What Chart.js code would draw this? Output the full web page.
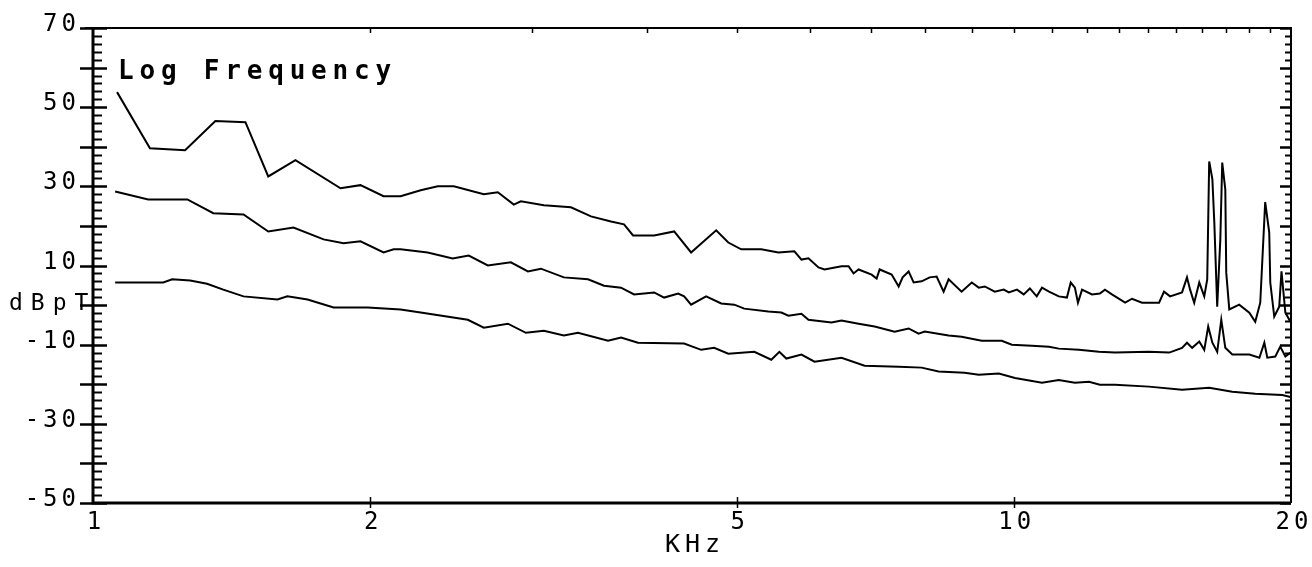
<!DOCTYPE html>
<html>
<head>
<meta charset="utf-8">
<title>Log Frequency</title>
<script src="https://cdn.jsdelivr.net/npm/chart.js@4.4.1/dist/chart.umd.min.js"></script>
<style>
    html, body { margin: 0; padding: 0; background: #fff; }
    #wrap { width: 1312px; height: 567px; position: relative; }
</style>
</head>
<body>
<div id="wrap"><canvas id="spectrum"></canvas></div>
<script>
// 上方曲線 (kHz / dBpT)
const upperFreq = [1.062, 1.153, 1.259, 1.358, 1.464, 1.550, 1.659, 1.857, 1.952, 2.068,
    2.158, 2.269, 2.368, 2.465, 2.657, 2.752, 2.864, 2.915, 3.088, 3.304,
    3.474, 3.652, 3.773, 3.859, 4.068, 4.277, 4.462, 4.751, 4.897, 5.058,
    5.318, 5.550, 5.777, 5.880, 5.984, 6.136, 6.229, 6.500, 6.615, 6.698,
    6.783, 7.008, 7.096, 7.150, 7.368, 7.498, 7.573, 7.687, 7.784, 7.941,
    8.102, 8.245, 8.390, 8.496, 8.776, 9.002, 9.161, 9.299, 9.535, 9.752,
    9.876, 10.08, 10.25, 10.41, 10.59, 10.73, 10.92, 11.19, 11.42, 11.53,
    11.65, 11.74, 11.86, 12.16, 12.40, 12.56, 12.78, 13.21, 13.44, 13.78,
    14.38, 14.56, 14.78, 15.23, 15.42, 15.54, 15.70, 15.90, 16.10, 16.22,
    16.30, 16.43, 16.51, 16.63, 16.76, 16.84, 16.97, 17.01, 17.14, 17.57,
    18.02, 18.29, 18.52, 18.75, 18.94, 18.99, 19.18, 19.42, 19.53, 19.72, 19.97];
const upperDb = [53.8, 39.6, 39.1, 46.5, 46.2, 32.5, 36.6, 29.5, 30.3, 27.5,
    27.5, 29.0, 30.0, 30.0, 28.0, 28.5, 25.4, 26.2, 25.2, 24.7,
    22.4, 21.1, 20.4, 17.6, 17.6, 18.6, 13.3, 18.9, 15.8, 14.1,
    14.1, 13.3, 13.6, 11.5, 11.8, 9.5, 9.0, 9.8, 9.8, 8.0,
    9.0, 7.7, 6.7, 9.0, 7.7, 4.7, 7.0, 8.5, 5.7, 6.0,
    7.0, 7.2, 3.4, 6.5, 3.4, 5.7, 4.4, 4.7, 3.4, 3.9,
    3.2, 3.9, 2.7, 4.2, 2.2, 4.4, 3.4, 2.2, 1.9, 5.7,
    4.4, 0.6, 3.9, 2.7, 2.9, 3.9, 2.7, 0.6, 1.6, 0.6,
    0.6, 3.4, 2.2, 3.2, 7.0, 3.9, 0.6, 5.7, 2.2, 6.5,
    36.3, 31.8, 20.9, -0.4, 16.6, 36.0, 29.2, 8.2, -1.1, 0.1,
    -1.9, -4.2, 0.6, 26.0, 18.4, 5.7, -2.9, -0.4, 8.5, -1.9, -4.2];

// 中間曲線
const middleFreq = [1.057, 1.148, 1.266, 1.351, 1.457, 1.550, 1.651, 1.780, 1.871, 1.952,
    2.068, 2.121, 2.158, 2.309, 2.458, 2.559, 2.684, 2.843, 2.967, 3.065,
    3.246, 3.448, 3.589, 3.745, 3.869, 4.068, 4.171, 4.320, 4.385, 4.462,
    4.633, 4.811, 4.971, 5.096, 5.412, 5.592, 5.691, 5.880, 5.984, 6.339,
    6.500, 6.783, 7.061, 7.423, 7.687, 7.882, 8.002, 8.496, 8.776, 9.230,
    9.703, 9.950, 10.46, 10.92, 11.19, 11.77, 12.37, 12.88, 14.02, 14.75,
    15.23, 15.42, 15.62, 15.90, 16.10, 16.26, 16.43, 16.63, 16.80, 16.97,
    17.27, 18.02, 18.48, 18.71, 18.85, 19.23, 19.47, 19.72, 19.97];
const middleDb = [28.7, 26.7, 26.7, 23.2, 22.9, 18.6, 19.6, 16.6, 15.6, 16.1,
    13.3, 14.1, 14.1, 13.3, 11.8, 12.5, 10.0, 10.8, 8.5, 9.2,
    7.0, 6.5, 4.9, 4.4, 2.7, 3.2, 1.9, 2.9, 2.2, 0.1,
    2.2, 0.4, 0.1, -0.9, -1.6, -1.9, -2.7, -2.2, -3.7, -4.4,
    -3.9, -4.7, -5.4, -6.7, -5.9, -7.2, -6.7, -7.7, -8.0, -9.0,
    -9.0, -10.0, -10.3, -10.5, -11.0, -11.3, -11.8, -12.0, -11.8, -12.0,
    -10.8, -9.5, -10.8, -9.2, -11.3, -5.4, -9.5, -11.8, -3.7, -10.8,
    -12.5, -12.5, -13.3, -9.5, -13.3, -13.0, -10.5, -13.0, -12.0];

// 下方曲線
const lowerFreq = [1.057, 1.192, 1.219, 1.275, 1.330, 1.385, 1.457, 1.586, 1.626, 1.710,
    1.825, 1.987, 2.158, 2.269, 2.553, 2.657, 2.822, 2.952, 3.088, 3.246,
    3.363, 3.625, 3.745, 3.907, 4.385, 4.576, 4.727, 4.897, 5.226, 5.453,
    5.564, 5.662, 5.880, 6.075, 6.500, 6.886, 7.498, 7.941, 8.286, 8.843,
    9.161, 9.632, 10.03, 10.73, 11.19, 11.65, 12.07, 12.40, 12.88, 14.02,
    15.23, 16.30, 17.27, 18.29, 19.57, 19.97];
const lowerDb = [5.7, 5.7, 6.5, 6.2, 5.4, 3.9, 2.2, 1.4, 2.2, 1.4,
    -0.6, -0.6, -1.1, -1.9, -3.7, -5.7, -4.7, -7.0, -6.5, -7.7,
    -7.0, -9.0, -8.2, -9.5, -9.7, -11.3, -10.8, -12.3, -11.8, -13.8,
    -11.8, -13.5, -12.5, -14.3, -13.3, -15.3, -15.6, -15.8, -16.8, -17.1,
    -17.6, -17.3, -18.4, -19.6, -18.9, -19.6, -19.4, -20.1, -20.1, -20.6,
    -21.4, -20.9, -21.9, -22.4, -22.7, -23.2];

// 刻度
const yTickLabels = [70, 50, 30, 10, -10, -30, -50];
const xTickLabels = [1, 2, 5, 10, 20];

function toPoints(freq, db) {
    return freq.map((f, i) => ({ x: f, y: db[i] }));
}

function traceSet(freq, db) {
    return {
        data: toPoints(freq, db),
        borderColor: '#000',
        borderWidth: 2,
        pointRadius: 0,
        tension: 0,
        fill: false
    };
}

// 框線、刻度與文字
const plotterAxes = {
    id: 'plotterAxes',
    afterDraw(chart) {
        const { ctx, chartArea: a } = chart;
        const xs = chart.scales.x;
        const ys = chart.scales.y;
        ctx.save();
        ctx.strokeStyle = '#000';
        ctx.fillStyle = '#000';

        // 外框
        ctx.lineWidth = 3;
        ctx.beginPath();
        ctx.moveTo(a.left, a.top);
        ctx.lineTo(a.left, a.bottom);
        ctx.lineTo(a.right, a.bottom);
        ctx.stroke();
        ctx.lineWidth = 2;
        ctx.beginPath();
        ctx.moveTo(a.left - 8, a.top);
        ctx.lineTo(a.right, a.top);
        ctx.lineTo(a.right, a.bottom);
        ctx.stroke();

        // 縱軸刻度（每 2 dB）
        for (let v = -50; v <= 70; v += 2) {
            const py = Math.round(ys.getPixelForValue(v)) + 0.5;
            const major = v % 10 === 0;
            ctx.lineWidth = major ? 2.5 : 2;
            ctx.beginPath();
            if (major) {
                ctx.moveTo(a.left - 13, py);
                ctx.lineTo(a.left + 14, py);
            } else {
                ctx.moveTo(a.left, py);
                ctx.lineTo(a.left + 9, py);
            }
            ctx.moveTo(a.right, py);
            ctx.lineTo(a.right - (major ? 11 : 6), py);
            ctx.stroke();
        }

        // 上緣刻度（每 1 kHz）
        ctx.lineWidth = 1.5;
        for (let f = 2; f < 20; f++) {
            const px = Math.round(xs.getPixelForValue(f)) + 0.5;
            ctx.beginPath();
            ctx.moveTo(px, a.top);
            ctx.lineTo(px, a.top + 5);
            ctx.stroke();
        }

        // 下緣刻度
        xTickLabels.forEach(f => {
            if (f === 1 || f === 20) return;
            const px = Math.round(xs.getPixelForValue(f)) + 0.5;
            ctx.beginPath();
            ctx.moveTo(px, a.bottom - 6);
            ctx.lineTo(px, a.bottom + 5);
            ctx.stroke();
        });

        // 縱軸數字
        ctx.font = '24px "DejaVu Sans Mono"';
        ctx.letterSpacing = '4px';
        ctx.textAlign = 'right';
        ctx.textBaseline = 'alphabetic';
        yTickLabels.forEach(v => {
            const py = ys.getPixelForValue(v);
            ctx.fillText(String(v), a.left - 13, py + 3);
        });

        // 橫軸數字
        ctx.textAlign = 'center';
        xTickLabels.forEach(f => {
            const px = xs.getPixelForValue(f);
            ctx.fillText(String(f), px + 3, a.bottom + 26);
        });

        // 標題與單位
        ctx.textAlign = 'left';
        ctx.font = 'bold 26px "DejaVu Sans Mono"';
        ctx.letterSpacing = '5.8px';
        ctx.fillText('Log Frequency', a.left + 25, 79);

        ctx.font = '23px "DejaVu Sans Mono"';
        ctx.letterSpacing = '8px';
        ctx.fillText('dBpT', 9, 310);

        ctx.font = '25px "DejaVu Sans Mono"';
        ctx.letterSpacing = '5px';
        ctx.fillText('KHz', 665, 552);

        ctx.restore();
    }
};

const ctx = document.getElementById('spectrum');
new Chart(ctx, {
    type: 'line',
    data: {
        datasets: [
            traceSet(upperFreq, upperDb),
            traceSet(middleFreq, middleDb),
            traceSet(lowerFreq, lowerDb)
        ]
    },
    options: {
        responsive: true,
        maintainAspectRatio: false,
        animation: false,
        layout: {
            padding: { left: 93, right: 21, top: 28, bottom: 64 }
        },
        plugins: {
            legend: { display: false },
            tooltip: { enabled: false }
        },
        scales: {
            x: { type: 'logarithmic', min: 1, max: 20, display: false },
            y: { type: 'linear', min: -50, max: 70, display: false }
        }
    },
    plugins: [plotterAxes]
});
</script>
</body>
</html>
